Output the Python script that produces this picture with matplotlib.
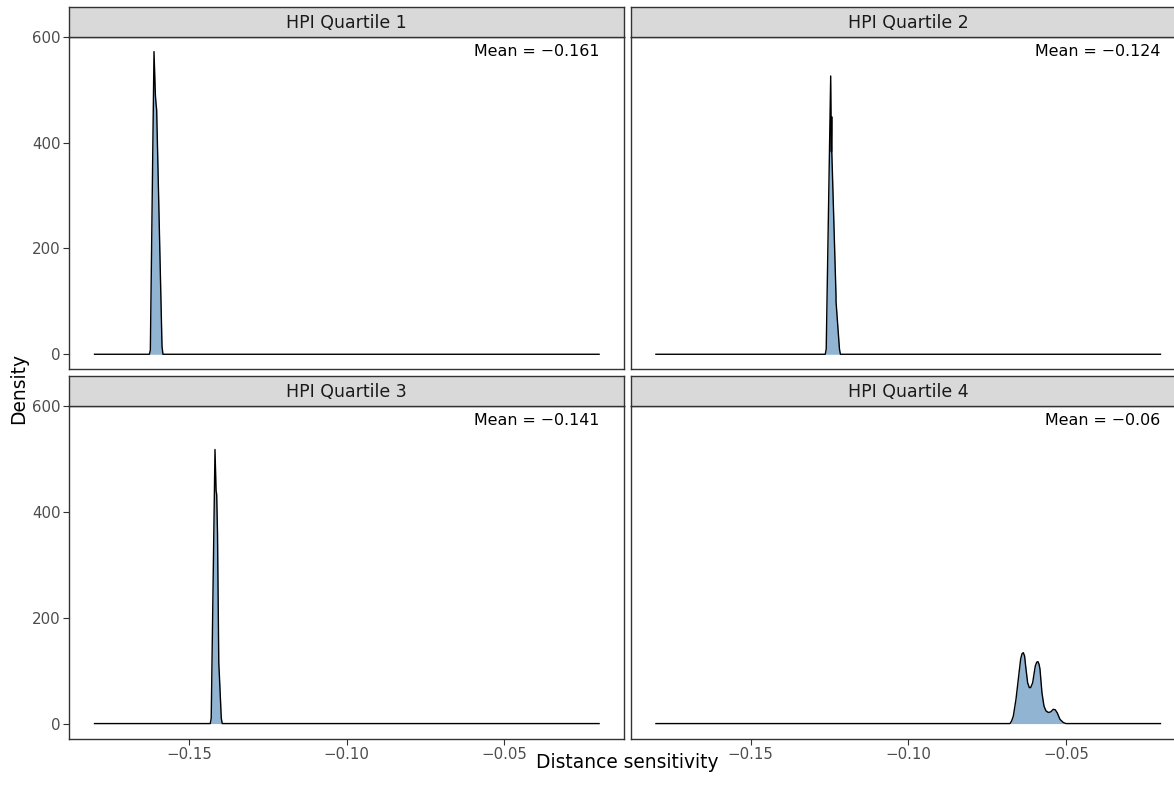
import matplotlib
matplotlib.use("Agg")
import matplotlib.pyplot as plt

# ---- data ----
panel_titles = ["HPI Quartile 1", "HPI Quartile 2", "HPI Quartile 3", "HPI Quartile 4"]
mean_labels = ["Mean = \u22120.161", "Mean = \u22120.124", "Mean = \u22120.141", "Mean = \u22120.06"]

q1_x = [-0.180, -0.1626, -0.1623, -0.16114, -0.1607, -0.1605, -0.1603, -0.1590, -0.1586, -0.1583, -0.020]
q1_y = [0, 0, 8, 572, 490, 474, 462, 120, 15, 0, 0]

q2_x = [-0.180, -0.1263, -0.1260, -0.12458, -0.12435, -0.12428, -0.12426, -0.12424, -0.1229, -0.12288, -0.1218, -0.1215, -0.020]
q2_y = [0, 0, 10, 526, 383, 420, 449, 385, 112, 99, 10, 0, 0]

q3_x = [-0.180, -0.1433, -0.1430, -0.1418, -0.14145, -0.14126, -0.1410, -0.1406, -0.1404, -0.1398, -0.1395, -0.020]
q3_y = [0, 0, 10, 518, 440, 433, 360, 115, 90, 10, 0, 0]

q4_x = [-0.180, -0.06773, -0.06720, -0.06667, -0.06582, -0.06508, -0.06434, -0.06390, -0.0635,
        -0.06310, -0.06276, -0.06212, -0.06159, -0.06117, -0.06054, -0.05969, -0.05925, -0.05885,
        -0.05850, -0.05821, -0.05758, -0.05694, -0.05631, -0.05557, -0.05483, -0.05398, -0.05335,
        -0.05272, -0.05187, -0.05081, -0.04997, -0.020]
q4_y = [0, 0, 5, 14, 46, 84, 122, 132, 134, 128, 109, 77, 68, 68, 77, 109, 116, 117,
        112, 103, 58, 33, 24, 21, 22, 27, 26, 20, 8, 2, 0, 0]

series_x = [q1_x, q2_x, q3_x, q4_x]
series_y = [q1_y, q2_y, q3_y, q4_y]

x_ticks = [-0.15, -0.10, -0.05]
x_tick_labels = ["\u22120.15", "\u22120.10", "\u22120.05"]
y_ticks = [0, 200, 400, 600]
y_tick_labels = ["0", "200", "400", "600"]

# ---- figure ----
plt.rcParams["font.family"] = ["DejaVu Sans"]
W, H = 1174, 786
fig = plt.figure(figsize=(W / 100, H / 100), dpi=100)

fill_col = "#90B4D2"
border_col = "#333333"
tick_col = "#4D4D4D"

col_x = [69.3, 630.7]
panel_w = 555.0
row_top = [36.7, 406.0]
panel_h = 332.7
strip_h = 30.0

xlim = (-0.188, -0.012)
ylim = (-28.6, 600.2)

for i in range(4):
    r, c = divmod(i, 2)
    x0 = col_x[c]
    top = row_top[r]
    ax = fig.add_axes([x0 / W, 1 - (top + panel_h) / H, panel_w / W, panel_h / H])
    ax.fill_between(series_x[i], series_y[i], 0, color=fill_col, linewidth=0, zorder=1)
    ax.plot(series_x[i], series_y[i], color="black", linewidth=1.0, zorder=2)
    ax.set_xlim(*xlim)
    ax.set_ylim(*ylim)
    for s in ax.spines.values():
        s.set_color(border_col)
        s.set_linewidth(1.0)
    ax.tick_params(axis="both", colors=border_col, labelcolor=tick_col, labelsize=10.8,
                   length=4, width=0.8, pad=2)
    if r == 1:
        ax.set_xticks(x_ticks)
        ax.set_xticklabels(x_tick_labels)
    else:
        ax.set_xticks([])
    if c == 0:
        ax.set_yticks(y_ticks)
        ax.set_yticklabels(y_tick_labels)
    else:
        ax.set_yticks([])
    ax.text(-0.02, 0.943, mean_labels[i], transform=ax.get_xaxis_transform(),
            ha="right", va="baseline", fontsize=11.4, color="black")

    # strip
    sax = fig.add_axes([x0 / W, 1 - top / H, panel_w / W, strip_h / H])
    sax.set_facecolor("#D9D9D9")
    sax.set_xticks([])
    sax.set_yticks([])
    for s in sax.spines.values():
        s.set_color(border_col)
        s.set_linewidth(1.0)
    sax.text(0.5, 0.47, panel_titles[i], transform=sax.transAxes, ha="center", va="center",
             fontsize=12.5, color="#1A1A1A")

fig.text(627 / W, 1 - 763 / H, "Distance sensitivity", ha="center", va="center", fontsize=13.4)
fig.text(19 / W, 1 - 388 / H, "Density", ha="center", va="center", rotation=90, fontsize=13.4)

fig.savefig("out.png", dpi=100)
